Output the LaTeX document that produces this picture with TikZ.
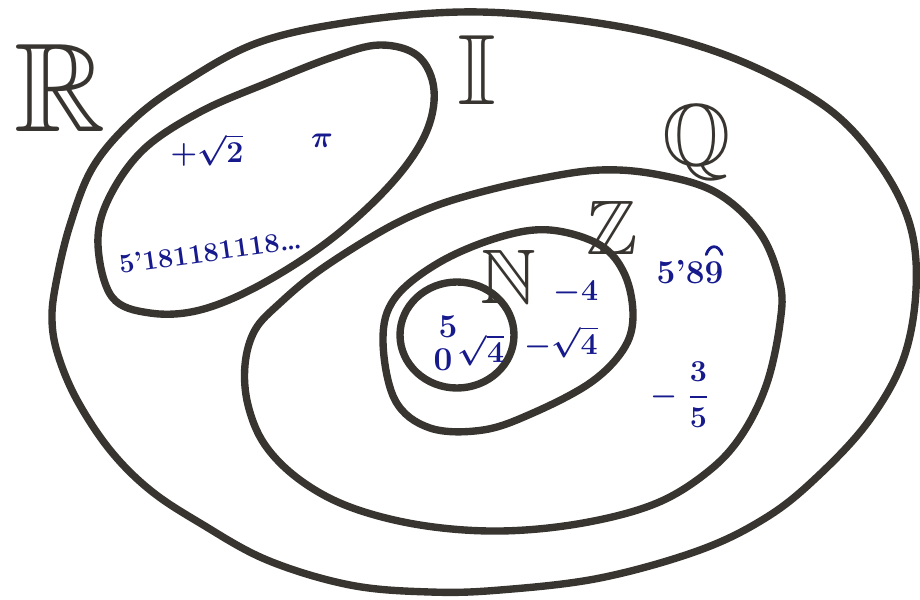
\documentclass[tikz,border=0pt]{standalone}
\usepackage{amsmath}
\usepackage{amssymb}
\usepackage{tikz}

\definecolor{ink}{RGB}{22,26,140}
\definecolor{marker}{RGB}{56,52,48}

\begin{document}
\begin{tikzpicture}[x=0.02cm, y=-0.02cm,
    setline/.style={line width=4.2pt, marker, line join=round},
    setname/.style={marker, inner sep=0pt},
    elem/.style={ink, inner sep=0pt, font=\fontsize{19}{19}\selectfont\bfseries\boldmath}]
    \useasboundingbox (0,0) rectangle (920,599);
    % the sets, drawn freehand
    \draw[setline] plot[smooth cycle, tension=0.6] coordinates {
        (460,12) (560,18) (660,35) (750,65) (830,110) (880,165) (910,225)
        (916,290) (903,360) (868,422) (817,477) (767,517) (700,550) (600,578)
        (500,590) (430,592) (350,585) (267,560) (200,523) (150,490) (110,450)
        (77,400) (58,355) (52,320) (56,283) (70,225) (93,167) (133,120)
        (183,83) (257,43) (350,22)};
    \draw[setline] plot[smooth cycle, tension=0.6] coordinates {
        (98,245) (108,200) (143,150) (200,112) (267,83) (333,57) (380,45)
        (418,56) (434,90) (425,135) (390,185) (330,240) (260,285) (200,310)
        (150,313) (112,297)};
    \draw[setline] plot[smooth cycle, tension=0.6] coordinates {
        (245,365) (255,330) (280,303) (320,270) (380,232) (425,210) (470,195)
        (533,180) (600,170) (660,175) (717,193) (760,233) (780,283) (780,323)
        (767,383) (743,433) (710,470) (657,503) (583,523) (500,531) (420,525)
        (350,507) (300,480) (265,445) (248,405)};
    \draw[setline] plot[smooth cycle, tension=0.6] coordinates {
        (383,340) (395,298) (440,262) (500,237) (550,230) (600,245) (625,275)
        (633,317) (623,350) (590,383) (533,413) (483,430) (430,428) (395,400)};
    \draw[setline] (457,335) ellipse [x radius=57, y radius=53];
    % names of the sets
    \node[setname, font=\fontsize{72}{72}\selectfont] (nameR) at (60,88) {$\mathbb{R}$};
    \node[setname, font=\fontsize{57}{57}\selectfont] (nameI) at (477,70) {$\mathbb{I}$};
    \node[setname, font=\fontsize{50}{50}\selectfont] (nameQ) at (697,143) {$\mathbb{Q}$};
    \node[setname, font=\fontsize{44}{44}\selectfont] (nameZ) at (612,228) {$\mathbb{Z}$};
    \node[setname, font=\fontsize{44}{44}\selectfont] (nameN) at (508,277) {$\mathbb{N}$};
    % irrationals
    \node[elem] (sqrttwo) at (207,150) {$+\sqrt{2}$};
    \node[elem] (pi) at (322,141) {$\pi$};
    \node[elem, rotate=8, font=\fontsize{15.5}{15.5}\selectfont\bfseries] (decimal) at (210,252) {5'181181118\ldots};
    % rationals
    \node[elem] (periodic) at (690,272) {5'89};
    \draw[ink, line width=1.6pt, line cap=round]
        ([shift={(-10pt,3pt)}]periodic.north east) .. controls +(2pt,6pt) and +(-2pt,6pt) .. ([shift={(-1pt,3pt)}]periodic.north east);
    \node[elem] (fraction) at (680,395) {$-\;\dfrac{3}{5}$};
    % integers
    \node[elem] (minusfour) at (576,293) {$-4$};
    \node[elem] (minusroot) at (561,342) {$-\sqrt{4}$};
    % naturals
    \node[elem] (five) at (448,327) {5};
    \node[elem] (zero) at (443,360) {0};
    \node[elem] (rootfour) at (481,350) {$\sqrt{4}$};
\end{tikzpicture}
\end{document}
